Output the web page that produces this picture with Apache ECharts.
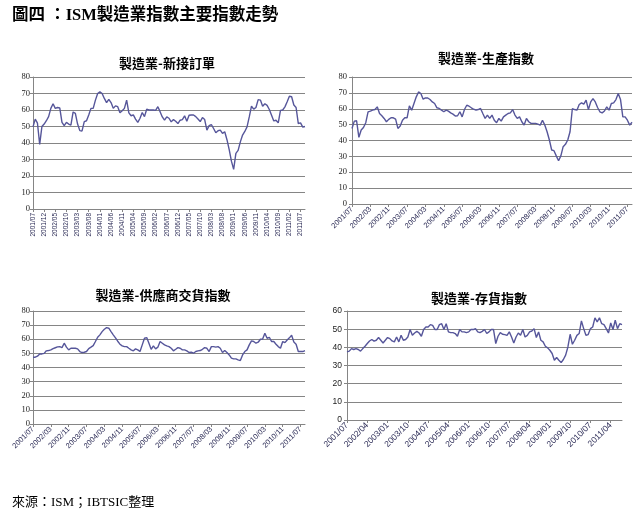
<!DOCTYPE html>
<html><head><meta charset="utf-8">
<script src="https://cdn.jsdelivr.net/npm/echarts@6/dist/echarts.min.js"></script>
<style>html,body{margin:0;padding:0;background:#fff}#c{width:640px;height:522px}</style>
</head><body><div id="c"></div>
<script>
// Monthly categories 2001/07 .. 2011/09
const months = [];
for (let y = 2001, m = 7; months.length < 123;) {
  months.push(y + '/' + String(m).padStart(2, '0'));
  m++; if (m > 12) { m = 1; y++; }
}
const newOrders = [49.8,54.5,52,39.2,50,51.5,53.5,56,61,63.8,
61,61.5,61.3,52.5,50.5,52.5,51.5,50.8,58.8,58,
51.5,47.5,47.3,53,53.5,57,61,61,66,70,
71,70,67,64.5,66.5,64.5,61,62.5,62,58.3,
59.5,61,66,58.3,56.5,57,54.5,52.5,55,58.5,
56,60.5,60,60,60,59.8,62,59,55.8,53.8,
55.8,55,52.8,54.2,53.2,51.8,53.8,54.2,56.5,53.2,
56.8,57,57,56,54.5,53,55.4,54.2,47.8,50.5,
51.2,48.8,46.2,47.4,47.8,45.8,46.8,42,36,29,
24,33.7,35.5,40.7,44.8,47,49.8,55.8,62.3,60.5,
61.5,66.3,66,62.3,63.8,62.8,60.3,56.8,53.4,53.8,
52.2,59.8,60,61.9,65,68.3,68,63,61.5,51.8,
52.2,49.6,50];
const production = [47.6,52.2,52.4,42,46.6,48.2,51.2,58,58.5,59.1,
59.5,61.2,57,55.6,53.9,51.8,53.3,54.3,54.3,53.5,
47.6,49.1,52.8,54.3,54.3,61.8,59.1,63.3,67.5,70.6,
69.6,66,66.8,66.8,65.8,64.3,63.3,60.6,60.2,59.1,
58.1,59.1,58.5,57.4,56.6,55.4,55.6,58.1,54.9,59.5,
62.2,61.6,60.6,59.7,59.1,59.5,60.2,57,53.9,56,
53.9,56,52.8,51.2,53.9,52.2,54.9,56,57,57.4,
59.5,56,53.9,54.9,51.8,49.7,53.9,51.8,50.8,50.8,
50.8,50.3,49.7,52.8,49.7,45.5,40.3,34,33.6,30.3,
27.2,30.3,36.1,37.6,40.3,45.5,60,59.5,59.1,62.7,
63.7,62.9,65.4,59.5,64.3,66.4,64.3,60.8,58.1,57.4,
58.6,61.2,59.1,63.3,63.7,65.8,69.6,65.8,54.9,54.9,
52.8,49.7,51.5];
const supplierDeliveries = [47.3,47.3,48,49.6,49.6,50,51.8,52,52.5,53.4,
54,54.6,54.8,54.1,57.2,54.4,52.5,53.6,53.6,53.6,
53.2,51.3,50.6,50.8,51.3,53.4,54.4,55.5,58.4,61.4,
63.1,65.4,67.1,68.2,67.8,65.4,63.1,61,58.6,56.5,
55.3,54.8,54.8,53.6,52.5,51.8,53.2,52.5,51.3,56,
60.7,61.2,57.2,52.9,55.3,53.2,54.4,58.4,57.2,56,
55.3,54.8,53.6,51.8,52.9,54.1,53.6,52.5,52.5,51.8,
50.6,50.8,50.1,51.3,51.8,52,52.9,54.1,53.6,51.3,
54.8,54.8,54.4,54.8,53.6,50.6,52,50.6,48.9,46.6,
46.1,46.1,45.4,44.9,48.9,51.3,52.5,56,58.8,58.4,
57.2,57.9,60,60.2,64.2,60.7,61.4,58.4,58.4,56.5,
54.8,53.6,58.4,57.6,59.5,61,62.8,58,56.5,51.3,
51.3,51.3,52];
const inventories = [37.5,37.9,39.3,38.8,39.3,38.8,37.9,39.3,40.6,42.1,
43.5,44.3,43.4,43.9,45.4,43.9,42.4,43.9,45.4,44.8,
43.5,43,45.7,43,46.6,43.9,44.3,45.7,49.8,46.6,
47.9,48.8,47.9,46.1,49.8,51.2,51.2,52.5,52.1,49.8,
49.8,52.5,53,49.8,53,48.5,48.1,48.1,47.6,46.1,
49.8,48.5,48.5,48.1,48.5,49.8,49.8,50.3,48.5,48.1,
48.8,49.8,47.6,48.5,49.8,49.8,42.1,46.1,48.1,47.2,
47,46.6,48.5,45.7,42.4,45.7,47.9,46.6,49.8,45.7,
46.6,48.5,49,50.3,45.4,48.5,43.9,43,40.6,39.7,
38.4,36.6,32.9,34.4,32.9,31.6,33.3,35.7,40.2,47.2,
41.7,43.9,46.6,47.6,54.5,50.3,46.6,47,50.3,51.2,
56.2,54,56.3,53,52.5,50.3,47.9,53.4,49.8,54.9,
50.3,53,52.5];
const panelTitles = ['製造業-新接訂單', '製造業-生產指數', '製造業-供應商交貨指數', '製造業-存貨指數'];
const yMax = [80, 80, 80, 60];
const labelEvery = [5, 8, 8, 9];
const mainTitle = '圖四 ：ISM製造業指數主要指數走勢';
const sourceNote = '來源：ISM；IBTSIC整理';

const seriesData = [newOrders, production, supplierDeliveries, inventories];
const boxes = [
  {left: 33, top: 77, width: 272, height: 132},
  {left: 352, top: 77, width: 280, height: 127},
  {left: 33, top: 311, width: 272, height: 113},
  {left: 347, top: 311, width: 275, height: 109}
];
const titlePos = [[167, 63], [486, 58], [163, 295], [479, 298]];
const rot = [90, 45, 45, 45];
const xFont = [6.5, 7.5, 7.5, 8.5];
const yFont = [8.5, 8.5, 8.5, 8.5];
const yMargin = [3, 5, 3, 5];
const lineColor = '#56569a';
const gridColor = '#858585';

const chart = echarts.init(document.getElementById('c'));
const option = {
  animation: false,
  backgroundColor: '#fff',
  grid: boxes,
  xAxis: boxes.map((b, i) => ({
    type: 'category', gridIndex: i, data: months, boundaryGap: false,
    axisLine: {lineStyle: {color: gridColor, width: 1}},
    axisTick: {interval: labelEvery[i] - 1, length: 3, lineStyle: {color: gridColor}},
    axisLabel: {interval: labelEvery[i] - 1, rotate: rot[i], fontSize: xFont[i],
      fontFamily: 'Liberation Sans', color: '#2a2a55', margin: 4},
    splitLine: {show: false}
  })),
  yAxis: boxes.map((b, i) => ({
    type: 'value', gridIndex: i, min: 0, max: yMax[i], interval: 10,
    axisLine: {show: true, lineStyle: {color: gridColor, width: 1}},
    axisTick: {show: true, length: 3, lineStyle: {color: gridColor}},
    axisLabel: {fontSize: yFont[i], fontFamily: i === 3 ? 'Liberation Sans' : 'Liberation Serif',
      color: '#222', margin: yMargin[i]},
    splitLine: {show: true, lineStyle: {color: gridColor, width: 1}}
  })),
  series: seriesData.map((d, i) => ({
    type: 'line', xAxisIndex: i, yAxisIndex: i, data: d, showSymbol: false,
    lineStyle: {color: lineColor, width: 1.4}, itemStyle: {color: lineColor}
  })),
  graphic: [
    {type: 'text', x: 12, y: 16, style: {text: mainTitle, fill: '#000',
      font: 'bold 16.5px "Liberation Serif", "Noto Sans CJK TC"', align: 'left', verticalAlign: 'middle'}},
    {type: 'text', x: 12, y: 503, style: {text: sourceNote, fill: '#000',
      font: '13px "Liberation Serif", "Noto Sans CJK TC"', align: 'left', verticalAlign: 'middle'}}
  ].concat(panelTitles.map((t, i) => ({
    type: 'text', x: titlePos[i][0], y: titlePos[i][1],
    style: {text: t, fill: '#000', font: 'bold 13px "Noto Sans CJK TC"', align: 'center', verticalAlign: 'middle'}
  })))
};
chart.setOption(option);
</script></body></html>
